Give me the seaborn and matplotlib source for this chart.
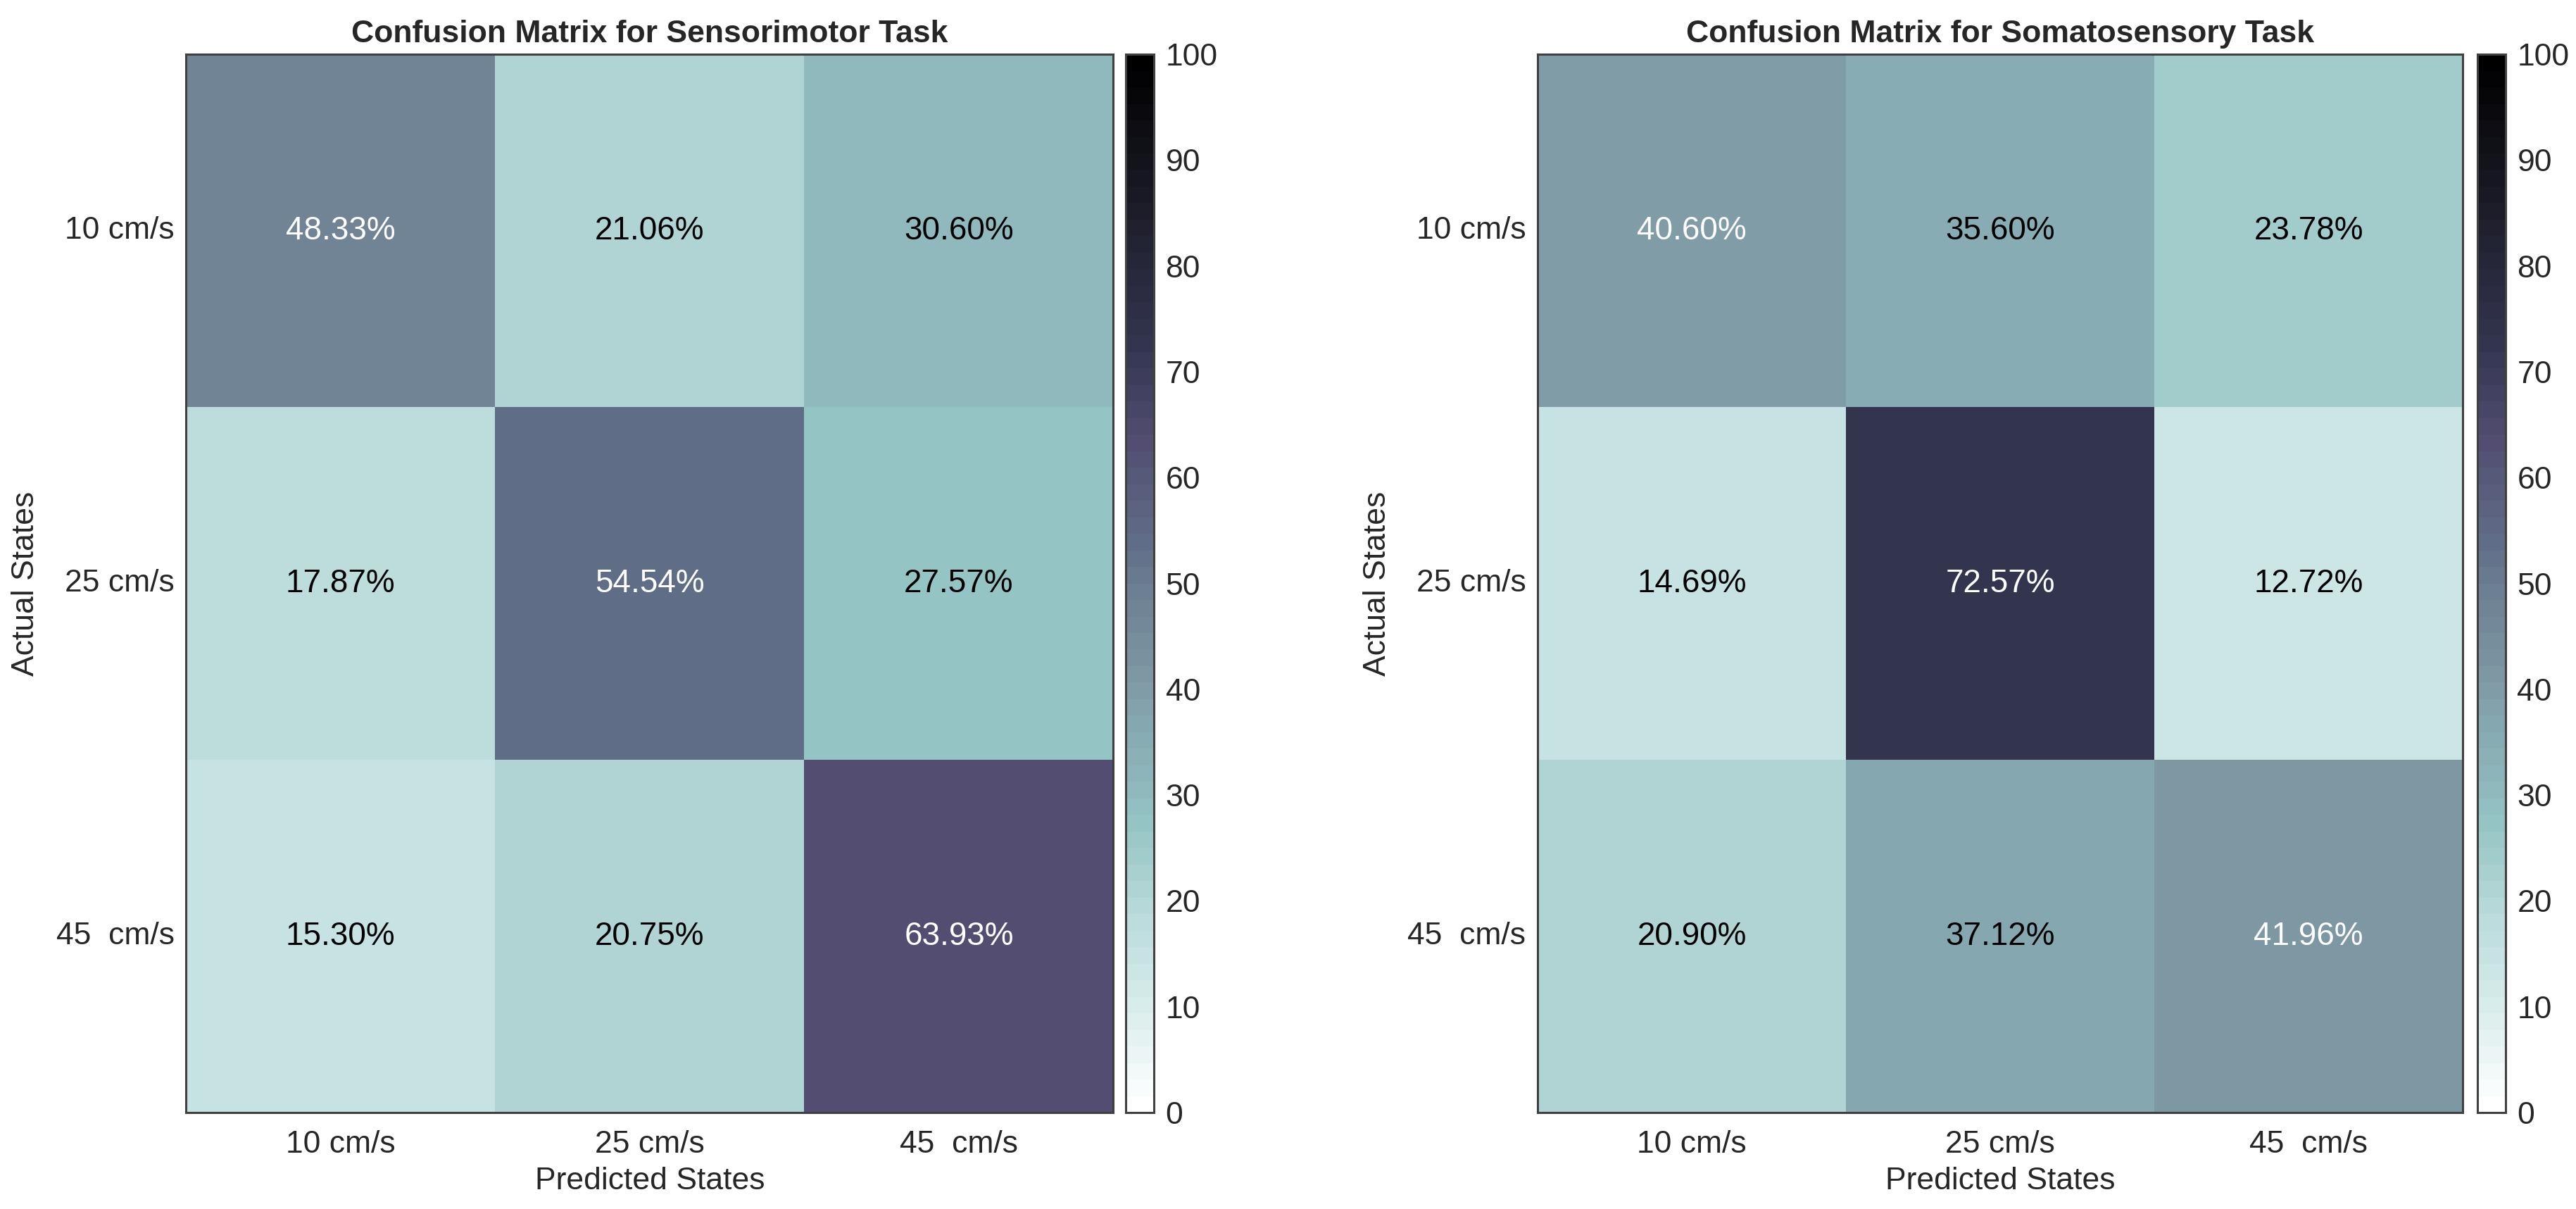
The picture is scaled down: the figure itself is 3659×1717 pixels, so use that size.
import numpy as np
import pandas as pd
import matplotlib
matplotlib.use("Agg")
import matplotlib.pyplot as plt
import seaborn as sns
from matplotlib.colors import LinearSegmentedColormap

# =========================
# DATA
# =========================
states = ["10 cm/s", "25 cm/s", "45  cm/s"]

sensorimotor = [
    [48.33, 21.06, 30.60],
    [17.87, 54.54, 27.57],
    [15.30, 20.75, 63.93],
]

somatosensory = [
    [40.60, 35.60, 23.78],
    [14.69, 72.57, 12.72],
    [20.90, 37.12, 41.96],
]

titles = [
    "Confusion Matrix for Sensorimotor Task",
    "Confusion Matrix for Somatosensory Task",
]

cbar_ticks = list(range(0, 101, 10))

# =========================
# STYLE
# =========================
sns.set_style("white")
plt.rcParams["font.family"] = ["Liberation Sans", "DejaVu Sans"]

# colormap (white -> teal -> slate purple -> black), 64 steps like MATLAB
anchors = [
    (0.0, "#ffffff"),
    (0.10, "#d6ebea"),
    (0.1272, "#cce5e5"),
    (0.1787, "#bcdcdc"),
    (0.21, "#aed2d2"),
    (0.2757, "#93c3c3"),
    (0.306, "#8fb7bd"),
    (0.356, "#87aab1"),
    (0.406, "#7e99a4"),
    (0.4833, "#6f8294"),
    (0.5454, "#5f6b85"),
    (0.6393, "#524d70"),
    (0.7257, "#343650"),
    (0.85, "#1e1e2c"),
    (1.0, "#000000"),
]
cmap = LinearSegmentedColormap.from_list("cm_teal", anchors, N=64)

fig = plt.figure(figsize=(18.295, 8.585), dpi=200)

ax_pos = [[0.0722, 0.0798, 0.3600, 0.8753], [0.5969, 0.0798, 0.3591, 0.8753]]
cb_pos = [[0.4370, 0.0798, 0.0109, 0.8753], [0.9617, 0.0798, 0.0109, 0.8753]]

edge = "#404040"

for k, mat in enumerate([sensorimotor, somatosensory]):
    df = pd.DataFrame(mat, index=states, columns=states)
    ax = fig.add_axes(ax_pos[k])
    cax = fig.add_axes(cb_pos[k])

    labels = df.map(lambda v: f"{v:.2f}%")

    sns.heatmap(
        df,
        ax=ax,
        cbar_ax=cax,
        cmap=cmap,
        vmin=0,
        vmax=100,
        annot=labels.values,
        fmt="",
        annot_kws={"fontsize": 16.5},
        cbar_kws={"ticks": cbar_ticks},
    )

    # white text on the dark cells, black on the light ones
    for txt, v in zip(ax.texts, df.values.flatten()):
        txt.set_color("white" if v > 40 else "black")

    for s in ax.spines.values():
        s.set_visible(True)
        s.set_color(edge)
        s.set_linewidth(1.1)

    ax.tick_params(direction="in", top=True, right=True, length=4.5, width=0.7,
                   color=edge, labelsize=16)
    ax.tick_params(axis="x", pad=9)
    ax.tick_params(axis="y", pad=6)
    ax.set_yticklabels(states, rotation=0)
    ax.set_xticklabels(states, rotation=0)
    ax.set_xlabel("Predicted States", fontsize=16, labelpad=4)
    ax.set_ylabel("Actual States", fontsize=16, labelpad=8)
    ax.set_title(titles[k], fontsize=16, fontweight="bold", pad=6)

    cax.tick_params(direction="in", length=4.5, width=0.7, color=edge,
                    labelsize=16, pad=6)
    cbar = ax.collections[0].colorbar
    cbar.outline.set_visible(True)
    cbar.outline.set_edgecolor(edge)
    cbar.outline.set_linewidth(1.1)

fig.savefig("out.png", dpi=200)
